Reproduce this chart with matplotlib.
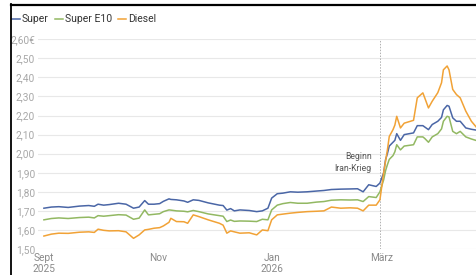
import numpy as np
import pandas as pd
import matplotlib
matplotlib.use("Agg")
import matplotlib.pyplot as plt
import matplotlib.dates as mdates
from matplotlib.lines import Line2D

plt.rcParams['font.family'] = ['Roboto', 'DejaVu Sans']

# Daily fuel prices (EUR/l)
dates = pd.to_datetime([
    "2025-09-01", "2025-09-05", "2025-09-09", "2025-09-14", "2025-09-20",
    "2025-09-25", "2025-09-28", "2025-09-30", "2025-10-03", "2025-10-06",
    "2025-10-11", "2025-10-15", "2025-10-19", "2025-10-22", "2025-10-25",
    "2025-10-27", "2025-10-30", "2025-11-02", "2025-11-04", "2025-11-07",
    "2025-11-08", "2025-11-11", "2025-11-15", "2025-11-17", "2025-11-20",
    "2025-11-23", "2025-11-28", "2025-12-04", "2025-12-06", "2025-12-08",
    "2025-12-10", "2025-12-12", "2025-12-15", "2025-12-20", "2025-12-24",
    "2025-12-27", "2025-12-30", "2026-01-01", "2026-01-04", "2026-01-07",
    "2026-01-11", "2026-01-15", "2026-01-20", "2026-01-25", "2026-01-29",
    "2026-02-02", "2026-02-07", "2026-02-12", "2026-02-16", "2026-02-19",
    "2026-02-22", "2026-02-26", "2026-02-28", "2026-03-02", "2026-03-03",
    "2026-03-04", "2026-03-05", "2026-03-07", "2026-03-08", "2026-03-09",
    "2026-03-11", "2026-03-13", "2026-03-18", "2026-03-20", "2026-03-23",
    "2026-03-24", "2026-03-26", "2026-03-28", "2026-03-31", "2026-04-02",
    "2026-04-03", "2026-04-05", "2026-04-06", "2026-04-08", "2026-04-10",
    "2026-04-12", "2026-04-15", "2026-04-18", "2026-04-21",
])
super_ = [
    1.714, 1.720, 1.722, 1.718, 1.725, 1.728, 1.724, 1.735, 1.730, 1.733,
    1.740, 1.735, 1.714, 1.720, 1.754, 1.735, 1.735, 1.738, 1.750, 1.763,
    1.760, 1.758, 1.752, 1.745, 1.758, 1.755, 1.742, 1.730, 1.728, 1.704,
    1.712, 1.700, 1.705, 1.702, 1.696, 1.700, 1.714, 1.767, 1.790, 1.793,
    1.800, 1.798, 1.800, 1.804, 1.807, 1.812, 1.814, 1.815, 1.816, 1.800,
    1.837, 1.828, 1.846, 1.900, 1.968, 2.000, 2.040, 2.060, 2.070, 2.105,
    2.070, 2.100, 2.109, 2.147, 2.147, 2.140, 2.126, 2.153, 2.170, 2.190,
    2.230, 2.253, 2.249, 2.188, 2.170, 2.170, 2.135, 2.128, 2.123,
]
super_e10 = [
    1.653, 1.660, 1.663, 1.660, 1.665, 1.667, 1.663, 1.675, 1.672, 1.675,
    1.680, 1.678, 1.656, 1.662, 1.705, 1.679, 1.682, 1.685, 1.696, 1.705,
    1.704, 1.700, 1.698, 1.695, 1.702, 1.696, 1.684, 1.675, 1.672, 1.644,
    1.652, 1.645, 1.647, 1.646, 1.644, 1.656, 1.653, 1.705, 1.730, 1.738,
    1.744, 1.740, 1.740, 1.746, 1.749, 1.756, 1.758, 1.757, 1.758, 1.749,
    1.775, 1.770, 1.800, 1.863, 1.910, 1.942, 1.970, 1.990, 2.010, 2.047,
    2.020, 2.040, 2.047, 2.088, 2.088, 2.080, 2.060, 2.088, 2.105, 2.130,
    2.170, 2.196, 2.193, 2.117, 2.105, 2.117, 2.088, 2.077, 2.068,
]
diesel = [
    1.568, 1.578, 1.583, 1.582, 1.588, 1.590, 1.587, 1.604, 1.598, 1.595,
    1.596, 1.590, 1.556, 1.574, 1.600, 1.603, 1.609, 1.612, 1.621, 1.640,
    1.661, 1.644, 1.643, 1.635, 1.679, 1.670, 1.653, 1.635, 1.625, 1.583,
    1.595, 1.590, 1.583, 1.585, 1.574, 1.600, 1.596, 1.653, 1.679, 1.683,
    1.688, 1.692, 1.696, 1.698, 1.700, 1.720, 1.714, 1.716, 1.714, 1.700,
    1.730, 1.730, 1.758, 1.900, 1.960, 2.020, 2.090, 2.126, 2.150, 2.196,
    2.135, 2.160, 2.175, 2.293, 2.319, 2.293, 2.240, 2.275, 2.320, 2.372,
    2.440, 2.460, 2.440, 2.337, 2.310, 2.293, 2.223, 2.170, 2.135,
]

series = [
    ("Super", super_, "#4a66a6"),
    ("Super E10", super_e10, "#92b862"),
    ("Diesel", diesel, "#f1a236"),
]

y_ticks = [1.5, 1.6, 1.7, 1.8, 1.9, 2.0, 2.1, 2.2, 2.3, 2.4, 2.5, 2.6]
x_ticks = pd.to_datetime(["2025-09-01", "2025-11-01", "2026-01-01", "2026-03-01"])
x_labels = ["Sept\n2025", "Nov", "Jan\n2026", "März"]
war_start = pd.Timestamp("2026-02-28")

W, H = 477, 275
fig = plt.figure(figsize=(W / 100, H / 100), dpi=100)
ax = fig.add_axes([38 / W, 1 - 249 / H, 1 - 38 / W, (249 - 39.3) / H])

for name, vals, col in series:
    ax.plot(dates, vals, color=col, lw=1.1, label=name, zorder=3)

ax.set_ylim(1.5, 2.6)
ax.set_xlim(pd.Timestamp("2025-08-28 20:00"), pd.Timestamp("2026-04-21"))
ax.set_yticks(y_ticks)
ylabels = [f"{v:.2f}".replace(".", ",") for v in y_ticks]
ylabels[-1] += "€"
ax.set_yticklabels(ylabels)
ax.set_xticks(x_ticks)
ax.set_xticklabels(x_labels, linespacing=1.1)
ax.tick_params(axis="y", length=0, pad=2, labelsize=7.3, labelcolor="#a8a8a8")
ax.tick_params(axis="x", length=0, pad=3, labelsize=7.3, labelcolor="#8a8a8a")
ax.grid(axis="y", color="#e8e8e8", lw=0.8)
for s in ax.spines.values():
    s.set_visible(False)

# war start marker
ax.axvline(war_start, color="#b0b0b0", lw=0.7, ls=(0, (1.5, 1.5)), zorder=2)
ax.text(war_start - pd.Timedelta(days=4.5), 2.007, "Beginn\nIran-Krieg",
        ha="right", va="top", fontsize=6.2, color="#555555", linespacing=1.35)

# legend
lx = 12
for name, vals, col in series:
    fig.add_artist(Line2D([lx / W, (lx + 8) / W], [1 - 19 / H] * 2,
                          color=col, lw=1.1))
    t = fig.text((lx + 10) / W, 1 - 19 / H, name, fontsize=7.5, color="#333333",
                 va="center", ha="left")
    fig.canvas.draw()
    bb = t.get_window_extent()
    lx = bb.x1 + 6

# frame
fig.add_artist(Line2D([11.5 / W, 11.5 / W], [0, 1 - 4 / H], color="black", lw=1.3))
fig.add_artist(Line2D([11.5 / W, 1], [1 - 4.5 / H] * 2, color="black", lw=1.6))

fig.savefig("out.png", dpi=100)
